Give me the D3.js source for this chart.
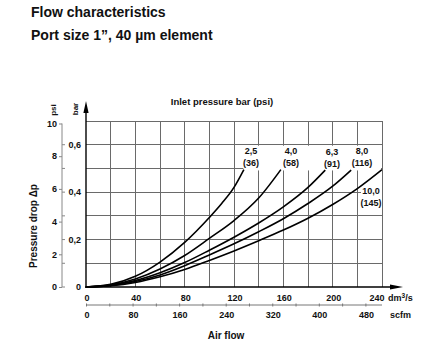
<!DOCTYPE html>
<html>
<head>
<meta charset="utf-8">
<script src="https://cdn.jsdelivr.net/npm/d3@7"></script>
<style>
  html, body { margin: 0; padding: 0; background: #fff; }
  svg { display: block; font-family: "Liberation Sans", Arial, Helvetica, sans-serif; }
  .b { font-weight: bold; fill: #111; }
</style>
</head>
<body>
<svg id="chart" width="442" height="344"></svg>
<script>
// Air flow in dm³/s, pressure drop in bar
const flowTicks = [0, 40, 80, 120, 160, 200, 240];
const scfmTicks = [0, 80, 160, 240, 320, 400, 480];
const barTicks = [0, 0.2, 0.4, 0.6];
const barTickLabels = ["0", "0,2", "0,4", "0,6"];
const psiTicks = [0, 2, 4, 6, 8, 10];

const inletBar = ["2,5", "4,0", "6,3", "8,0", "10,0"];
const inletPsi = ["(36)", "(58)", "(91)", "(116)", "(145)"];

const curve25  = [[0,0],[20,0.011],[40,0.045],[60,0.105],[80,0.188],[100,0.293],[110,0.352],[120,0.42],[128,0.495]];
const curve40  = [[0,0],[20,0.009],[40,0.034],[60,0.076],[80,0.133],[100,0.205],[120,0.28],[140,0.375],[158,0.495]];
const curve63  = [[0,0],[20,0.007],[40,0.027],[60,0.06],[80,0.103],[100,0.155],[120,0.21],[140,0.27],[160,0.338],[180,0.42],[194,0.493]];
const curve80  = [[0,0],[20,0.006],[40,0.023],[60,0.051],[80,0.09],[100,0.135],[120,0.182],[140,0.233],[160,0.288],[180,0.352],[200,0.425],[215,0.493]];
const curve100 = [[0,0],[20,0.005],[40,0.019],[60,0.043],[80,0.074],[100,0.112],[120,0.152],[140,0.195],[160,0.24],[180,0.29],[200,0.348],[220,0.415],[240,0.495]];
const curves = [curve25, curve40, curve63, curve80, curve100];

const svg = d3.select("#chart");

const x = d3.scaleLinear().domain([0, 240]).range([86, 382]);
const y = d3.scaleLinear().domain([0, 0.7]).range([287, 121]);
const DM3_TO_SCFM = 2.11888;
const xScfm = d3.scaleLinear().domain([0, 240 * DM3_TO_SCFM]).range([86, 382]);
const BAR_TO_PSI = 14.5038;
const yPsi = d3.scaleLinear().domain([0, 0.7 * BAR_TO_PSI]).range([287, 121]);

// Titles
svg.append("text").attr("class", "b").attr("x", 31).attr("y", 17).attr("font-size", 14).text("Flow characteristics");
svg.append("text").attr("class", "b").attr("x", 31).attr("y", 40).attr("font-size", 14).text("Port size 1\u201d, 40 \u00b5m element");

// Grid
const grid = svg.append("g").attr("stroke", "#6a6a6a").attr("stroke-width", 1).attr("shape-rendering", "crispEdges");
grid.selectAll("line.v").data(d3.range(20, 241, 20)).join("line")
  .attr("x1", d => x(d)).attr("x2", d => x(d)).attr("y1", y(0)).attr("y2", y(0.7));
grid.selectAll("line.h").data(d3.range(1, 8).map(i => i / 10)).join("line")
  .attr("x1", x(0)).attr("x2", x(240)).attr("y1", d => y(d)).attr("y2", d => y(d));

// Blank band behind the inlet pressure labels
svg.append("rect").attr("x", x(128) - 0.5).attr("y", y(0.6) + 1).attr("width", x(240) - x(128) - 0.5)
  .attr("height", y(0.5) - y(0.6) + 1).attr("fill", "#fff");
svg.append("rect").attr("x", 361).attr("y", 183).attr("width", 21).attr("height", 25).attr("fill", "#fff");

// Curves
const line = d3.line().x(d => x(d[0])).y(d => y(d[1])).curve(d3.curveMonotoneX);
svg.append("g").selectAll("path").data(curves).join("path")
  .attr("d", line).attr("fill", "none").attr("stroke", "#000").attr("stroke-width", 1.6);

// Curve labels
const labelPos = [[251, 154], [291, 154], [332, 155], [362, 154], [371, 194]];
labelPos.forEach((p, i) => {
  svg.append("text").attr("class", "b").attr("font-size", 9).attr("text-anchor", "middle")
    .attr("x", p[0]).attr("y", p[1]).text(inletBar[i]);
  svg.append("text").attr("class", "b").attr("font-size", 9).attr("text-anchor", "middle")
    .attr("x", p[0]).attr("y", p[1] + 11.5).text(inletPsi[i]);
});

svg.append("text").attr("class", "b").attr("font-size", 9.5).attr("text-anchor", "middle")
  .attr("x", 222).attr("y", 105).text("Inlet pressure bar (psi)");

// Right border of the grid
svg.append("line").attr("x1", x(240)).attr("x2", x(240)).attr("y1", y(0)).attr("y2", y(0.7))
  .attr("stroke", "#6a6a6a").attr("shape-rendering", "crispEdges");

// Bar axis with arrow
svg.append("line").attr("x1", x(0)).attr("x2", x(0)).attr("y1", y(0) + 1).attr("y2", 110)
  .attr("stroke", "#000").attr("stroke-width", 1.4);
svg.append("path").attr("d", `M${x(0) - 2.6},113 L${x(0)},101 L${x(0) + 2.6},113 Z`).attr("fill", "#000");

// Flow axis with arrow
svg.append("line").attr("x1", x(0) - 1).attr("x2", 392).attr("y1", y(0)).attr("y2", y(0))
  .attr("stroke", "#000").attr("stroke-width", 1.4);
svg.append("path").attr("d", `M390,${y(0) - 2.6} L403,${y(0)} L390,${y(0) + 2.6} Z`).attr("fill", "#000");

// Flow tick labels (dm³/s)
svg.append("g").selectAll("text").data(flowTicks).join("text")
  .attr("class", "b").attr("font-size", 9).attr("text-anchor", "middle")
  .attr("x", d => x(d) + (d === 240 ? -5 : 1)).attr("y", 301).text(d => d);
const unit = svg.append("text").attr("class", "b").attr("font-size", 9).attr("x", 388).attr("y", 301);
unit.append("tspan").text("dm");
unit.append("tspan").attr("font-size", 6.5).attr("dy", -3.5).text("3");
unit.append("tspan").attr("dy", 3.5).text("/s");

// scfm axis
const scfmAxis = d3.axisBottom(xScfm).tickValues(d3.range(0, 500, 40)).tickSize(3).tickFormat("");
const gS = svg.append("g").attr("transform", "translate(0,305)").call(scfmAxis);
gS.select(".domain").attr("d", `M${x(0)},0H${x(240)}`).attr("stroke", "#777");
gS.selectAll(".tick line").attr("stroke", "#777").attr("y1", -1.5).attr("y2", 1.5);
svg.append("g").selectAll("text").data(scfmTicks).join("text")
  .attr("class", "b").attr("font-size", 9).attr("text-anchor", "middle")
  .attr("x", d => xScfm(d) + 1).attr("y", 318).text(d => d);
svg.append("text").attr("class", "b").attr("font-size", 9).attr("x", 390).attr("y", 318).text("scfm");

svg.append("text").attr("class", "b").attr("font-size", 10).attr("text-anchor", "middle")
  .attr("x", 226).attr("y", 339).text("Air flow");

// psi axis (left) with bar ticks on its right side
const psiAxis = d3.axisLeft(yPsi).tickValues(psiTicks).tickSize(3).tickFormat("");
const gP = svg.append("g").attr("transform", "translate(62,0)").call(psiAxis);
gP.select(".domain").attr("d", `M0,${yPsi(10)}V${y(0)}`).attr("stroke", "#888");
gP.selectAll(".tick line").attr("stroke", "#888");
svg.append("g").selectAll("line").data(d3.range(0, 7).map(i => i / 10)).join("line")
  .attr("x1", 62).attr("x2", 65).attr("y1", d => y(d)).attr("y2", d => y(d)).attr("stroke", "#888");
svg.append("g").selectAll("text").data(psiTicks).join("text")
  .attr("class", "b").attr("font-size", 9).attr("text-anchor", "end")
  .attr("x", 57).attr("y", d => yPsi(d) + 3.3).text(d => d);
svg.append("g").selectAll("text").data(barTicks).join("text")
  .attr("class", "b").attr("font-size", 9).attr("text-anchor", "end")
  .attr("x", 81).attr("y", d => y(d) + 3.3).text((d, i) => barTickLabels[i]);

// Axis titles
svg.append("text").attr("class", "b").attr("font-size", 8).attr("text-anchor", "middle")
  .attr("transform", "translate(56,110) rotate(-90)").text("psi");
svg.append("text").attr("class", "b").attr("font-size", 8).attr("text-anchor", "middle")
  .attr("transform", "translate(78,109) rotate(-90)").text("bar");
svg.append("text").attr("class", "b").attr("font-size", 10).attr("text-anchor", "middle")
  .attr("transform", "translate(37,226) rotate(-90)").text("Pressure drop \u0394p");
</script>
</body>
</html>
